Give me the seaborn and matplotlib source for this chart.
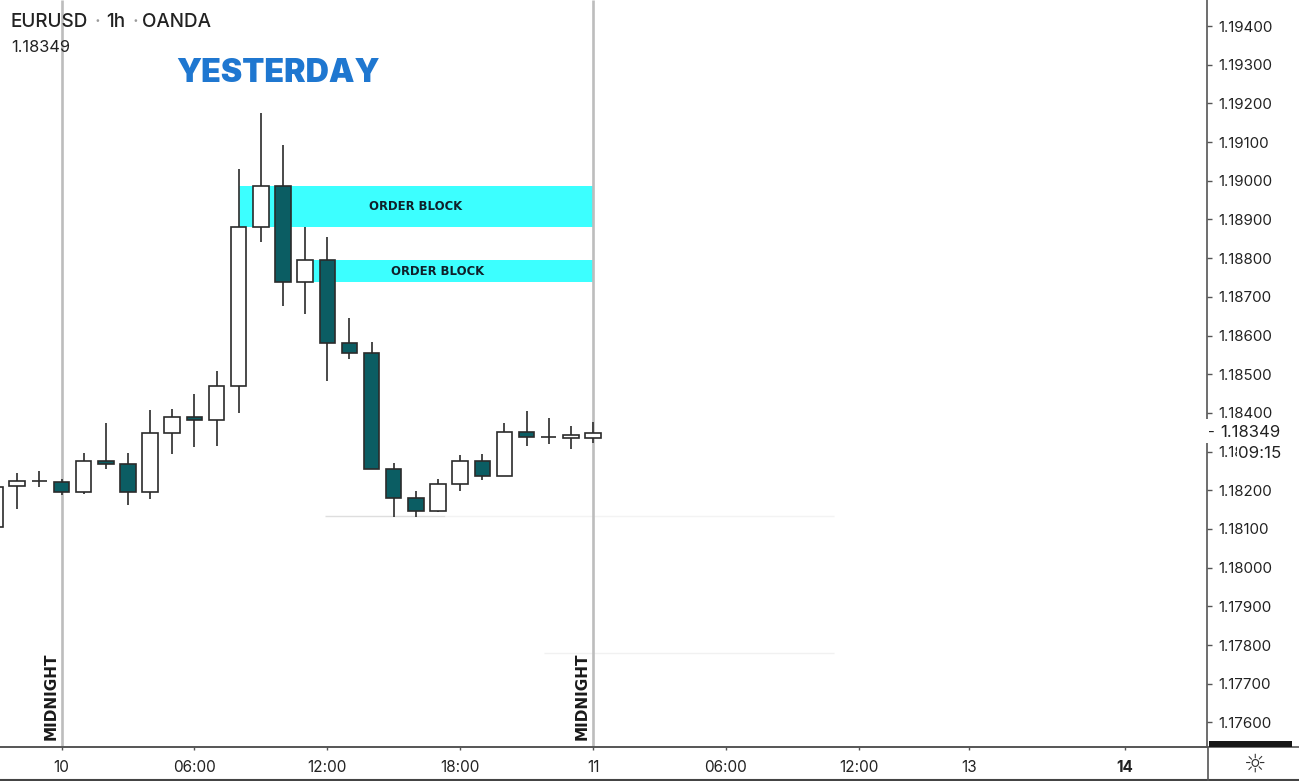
import matplotlib
matplotlib.use("Agg")
import matplotlib.pyplot as plt
from matplotlib.lines import Line2D
from matplotlib.patches import Rectangle
from matplotlib.transforms import blended_transform_factory
import numpy as np
import pandas as pd
import seaborn as sns

# Hourly EURUSD candles, hour 0 = midnight of the 10th
hours = [-3, -2, -1, 0, 1, 2, 3, 4, 5, 6, 7, 8, 9, 10, 11, 12, 13, 14, 15, 16, 17, 18, 19, 20, 21, 22, 23, 24]
opens = [1.18105, 1.18211, 1.18225, 1.18221, 1.18196, 1.18276, 1.18268, 1.18196, 1.18348, 1.18389, 1.18382,
         1.18470, 1.18880, 1.18986, 1.18738, 1.18795, 1.18581, 1.18555, 1.18255, 1.18180, 1.18146, 1.18216,
         1.18276, 1.18237, 1.18351, 1.18338, 1.18336, 1.18336]
closes = [1.18208, 1.18224, 1.18224, 1.18196, 1.18276, 1.18268, 1.18196, 1.18348, 1.18389, 1.18382, 1.18470,
          1.18880, 1.18986, 1.18738, 1.18795, 1.18581, 1.18555, 1.18255, 1.18180, 1.18146, 1.18216, 1.18276,
          1.18237, 1.18351, 1.18338, 1.18337, 1.18343, 1.18349]
highs = [1.18208, 1.18245, 1.18250, 1.18229, 1.18296, 1.18374, 1.18296, 1.18407, 1.18410, 1.18449, 1.18508,
         1.19030, 1.19175, 1.19092, 1.18880, 1.18855, 1.18645, 1.18583, 1.18270, 1.18198, 1.18229, 1.18291,
         1.18294, 1.18374, 1.18405, 1.18387, 1.18366, 1.18376]
lows = [1.18105, 1.18152, 1.18208, 1.18188, 1.18190, 1.18255, 1.18162, 1.18177, 1.18294, 1.18312, 1.18314,
        1.18400, 1.18842, 1.18676, 1.18656, 1.18482, 1.18539, 1.18508, 1.18131, 1.18131, 1.18143, 1.18198,
        1.18227, 1.18237, 1.18314, 1.18320, 1.18307, 1.18322]

# Shaded supply zones
zone_hours = [(8, 24), (11, 24)]
zone_prices = [(1.18880, 1.18986), (1.18738, 1.18795)]
zone_names = ["ORDER BLOCK", "ORDER BLOCK"]
zone_label_hours = [15.97, 16.97]

# Faint horizontal levels
level_prices = [1.18133, 1.18133, 1.17779]
level_spans = [(11.9, 17.3), (17.3, 34.9), (21.8, 34.9)]
level_colours = ["#dedede", "#f3f3f3", "#f1f1f1"]

price_ticks = [1.176 + 0.001 * i for i in range(19)]
time_ticks = [0, 6, 12, 18, 24, 30, 36, 41, 48]
time_labels = ["10", "06:00", "12:00", "18:00", "11", "06:00", "12:00", "13", "14"]
midnights = [0, 24]
last_price = 1.18349

W, H = 1299, 781
TEAL = "#0b5d63"
EDGE = "#2b2b2b"
INK = "#222222"
FONT = ["Inter", "DejaVu Sans"]

sns.set_theme(style="white")
plt.rcParams["font.family"] = FONT

frame = pd.DataFrame({"hour": hours, "open": opens, "close": closes, "high": highs, "low": lows})
frame["bottom"] = frame[["open", "close"]].min(axis=1)
frame["size"] = (frame["close"] - frame["open"]).abs().clip(lower=0.00001)
frame["rising"] = frame["close"] >= frame["open"]

fig = plt.figure(figsize=(W / 100, H / 100), dpi=100, facecolor="white")
ax = fig.add_axes([0, 34 / H, 1207 / W, 747 / H])


def fx(px):
    return px / W


def fy(py):
    return 1 - py / H


# Zones sit behind everything else
for (x0, x1), (p0, p1), name, lx in zip(zone_hours, zone_prices, zone_names, zone_label_hours):
    ax.fill_between([x0, x1], p0, p1, color="#3cffff", lw=0, zorder=1)
    ax.text(lx, (p0 + p1) / 2, name, ha="center", va="center", fontsize=8.4, fontweight="bold",
            family="DejaVu Sans", color="#10202a", zorder=6)

for price, (x0, x1), colour in zip(level_prices, level_spans, level_colours):
    ax.hlines(price, x0, x1, color=colour, lw=1, zorder=1)

ax.vlines(midnights, 0, 1, transform=ax.get_xaxis_transform(), color="#bdbdbd", lw=1.9, zorder=2)
ax.vlines(frame["hour"], frame["low"], frame["high"], color="#3a3a3a", lw=1.3, zorder=3)

# Candle bodies, split by direction so each gets its own fill
for rising, fill in [(True, "white"), (False, TEAL)]:
    part = frame[frame["rising"] == rising]
    sns.barplot(data=part, x="hour", y="size", bottom=part["bottom"], native_scale=True, width=0.7,
                errorbar=None, color=fill, saturation=1, edgecolor=EDGE, linewidth=1.2,
                zorder=4, ax=ax)

ax.set_xlim(-61.5 / 22.146, (1207 - 61.5) / 22.146)
ax.set_ylim(1.194 - 721 * 2.5847e-5, 1.194 + 26 * 2.5847e-5)
ax.set_xlabel("")
ax.set_ylabel("")
ax.grid(False)

for side in ["top", "left"]:
    ax.spines[side].set_visible(False)
for side in ["right", "bottom"]:
    ax.spines[side].set_color("#555555")
    ax.spines[side].set_linewidth(1.2)

ax.yaxis.tick_right()
ax.set_yticks(price_ticks)
ax.set_yticklabels([f"{p:.5f}" for p in price_ticks])
ax.tick_params(axis="y", which="major", right=True, length=3.5, width=1, color="#555555", pad=5,
               labelsize=10.9, labelcolor=INK)
ax.set_xticks(time_ticks)
ax.set_xticklabels(time_labels)
ax.tick_params(axis="x", which="major", bottom=True, length=2.5, width=1, color="#555555", pad=6.5,
               labelsize=11, labelcolor=INK)
ax.get_xticklabels()[-1].set_fontweight("bold")

# Rotated session markers beside each midnight line
for hour in midnights:
    ax.annotate("MIDNIGHT", xy=(hour, 0), xycoords=ax.get_xaxis_transform(), xytext=(-7.5, 5),
                textcoords="offset points", rotation=90, ha="center", va="bottom", fontsize=11,
                fontweight="bold", family="DejaVu Sans", color="#1a1a1a", zorder=6)

# Symbol header with muted separators
for px, text, color in [(11, "EURUSD", INK), (94.5, "·", "#9a9a9a"), (106, "1h", INK),
                        (132, "·", "#9a9a9a"), (142, "OANDA", INK)]:
    fig.text(fx(px), fy(22), text, fontsize=13.6, color=color, ha="left", va="center", fontweight="medium")
fig.text(fx(11), fy(47), f"{last_price:.5f}", fontsize=11.8, color=INK, ha="left", va="center")
fig.text(fx(278.5), fy(73), "YESTERDAY", fontsize=23.2, color="#1f77d0", ha="center", va="center",
         fontweight="black", family=["Inter", "DejaVu Sans"])

# Right-hand scale: live price flag, countdown and footer strip
for rect, colour in [((1204, 419, 90, 24), "white"), ((1237, 443, 57, 19), "white"),
                     ((1209, 741, 83, 6), "#161616")]:
    x, y, w, h = rect
    fig.add_artist(Rectangle((fx(x), fy(y + h)), w / W, h / H, transform=fig.transFigure,
                             facecolor=colour, edgecolor="none", zorder=3))
price_tf = blended_transform_factory(fig.transFigure, ax.transData)
flag = fig.text(fx(1220.5), 0, f"{last_price:.5f}", fontsize=12, color=INK, ha="left", va="center", zorder=4)
flag.set_transform(price_tf)
flag.set_y(last_price)
dash = fig.text(fx(1211.5), 0, "-", fontsize=10.8, color=INK, ha="center", va="center", zorder=4)
dash.set_transform(price_tf)
dash.set_y(last_price)
fig.text(fx(1260), fy(454), "09:15", fontsize=12.2, color=INK, ha="center", va="center", zorder=4)
fig.text(fx(1255), fy(765), "\u263c", fontsize=18, color="#333333", ha="center", va="center",
         family="DejaVu Sans", zorder=4)

fig.add_artist(Line2D([0, 1], [fy(747)] * 2, transform=fig.transFigure, color="#555555", lw=1.2, zorder=2))
fig.add_artist(Line2D([0, 1], [fy(780)] * 2, transform=fig.transFigure, color="#444444", lw=1.5, zorder=2))
fig.add_artist(Line2D([fx(1207.5)] * 2, [fy(747), fy(780)], transform=fig.transFigure, color="#555555",
                      lw=1.2, zorder=2))

fig.savefig("out.png", dpi=100, facecolor="white")
